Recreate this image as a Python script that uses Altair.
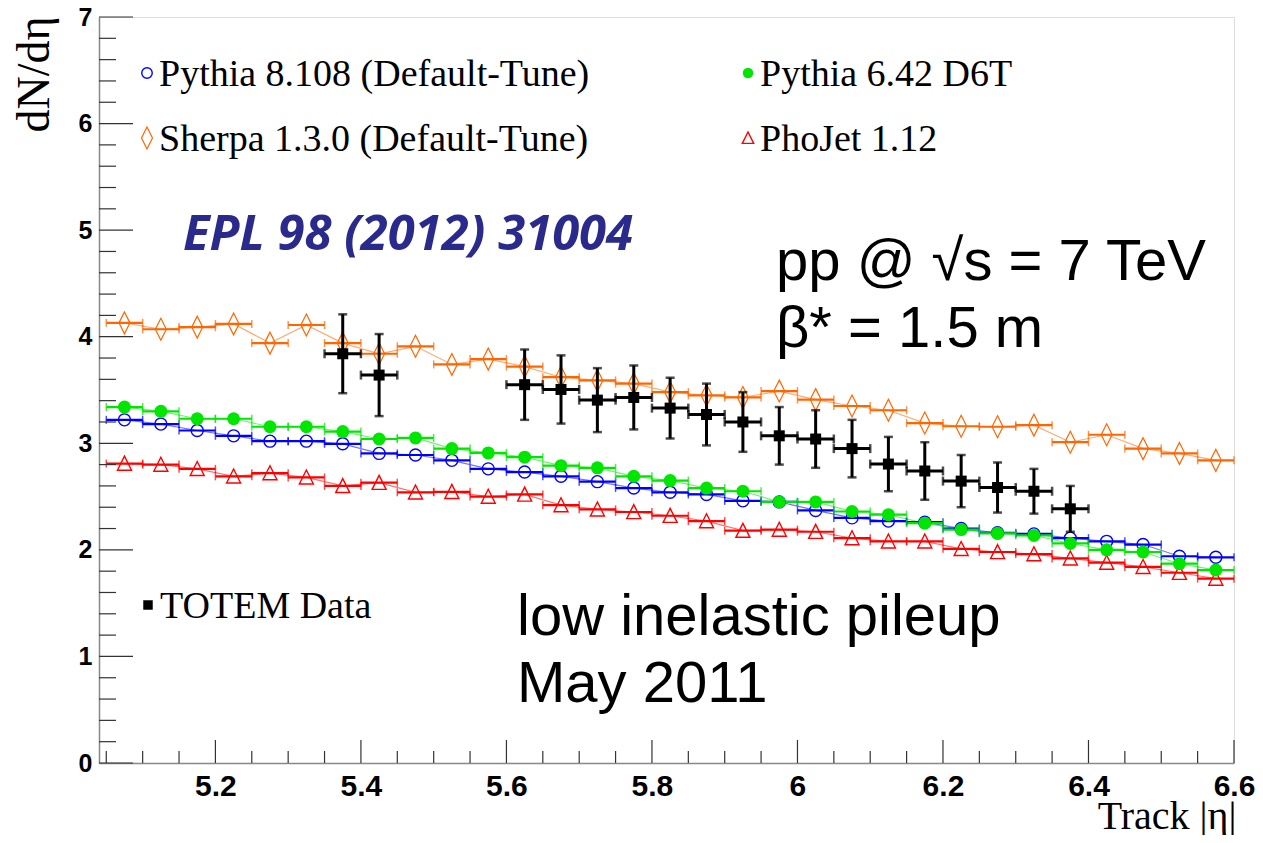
import altair as alt
import pandas as pd

# ---------------- data ----------------
bin_centers = [5.075, 5.125, 5.175, 5.225, 5.275, 5.325, 5.375, 5.425, 5.475, 5.525,
               5.575, 5.625, 5.675, 5.725, 5.775, 5.825, 5.875, 5.925, 5.975, 6.025,
               6.075, 6.125, 6.175, 6.225, 6.275, 6.325, 6.375, 6.425, 6.475, 6.525, 6.575]
half_bin = 0.025

sherpa = [4.13, 4.07, 4.09, 4.12, 3.94, 4.11, 3.94, 3.84, 3.91, 3.74,
          3.79, 3.72, 3.62, 3.59, 3.56, 3.48, 3.45, 3.43, 3.49, 3.41,
          3.35, 3.31, 3.19, 3.16, 3.155, 3.17, 3.01, 3.08, 2.95, 2.905, 2.84]
pythia6 = [3.34, 3.30, 3.23, 3.23, 3.155, 3.155, 3.11, 3.04, 3.05, 2.95,
           2.91, 2.87, 2.79, 2.77, 2.69, 2.65, 2.58, 2.55, 2.45, 2.45,
           2.36, 2.33, 2.25, 2.19, 2.155, 2.135, 2.06, 2.00, 1.98, 1.87, 1.81]
pythia8 = [3.22, 3.18, 3.12, 3.07, 3.02, 3.02, 2.995, 2.905, 2.89, 2.84,
           2.76, 2.73, 2.69, 2.64, 2.58, 2.54, 2.52, 2.46, 2.45, 2.37,
           2.30, 2.27, 2.26, 2.20, 2.16, 2.15, 2.11, 2.08, 2.05, 1.94, 1.93]
phojet = [2.81, 2.80, 2.76, 2.69, 2.72, 2.68, 2.60, 2.63, 2.54, 2.545,
          2.50, 2.52, 2.42, 2.38, 2.355, 2.32, 2.27, 2.18, 2.19, 2.17,
          2.11, 2.08, 2.08, 2.01, 1.98, 1.96, 1.92, 1.88, 1.84, 1.785, 1.73]

totem_x = [5.375, 5.425, 5.625, 5.675, 5.725, 5.775, 5.825, 5.875, 5.925,
           5.975, 6.025, 6.075, 6.125, 6.175, 6.225, 6.275, 6.325, 6.375]
totem_y = [3.84, 3.64, 3.55, 3.505, 3.405, 3.43, 3.33, 3.27, 3.20,
           3.07, 3.04, 2.95, 2.805, 2.74, 2.645, 2.585, 2.55, 2.385]
totem_err = [0.37, 0.385, 0.33, 0.32, 0.30, 0.30, 0.285, 0.29, 0.28,
             0.27, 0.27, 0.27, 0.255, 0.27, 0.245, 0.235, 0.21, 0.215]

series_names = ["Pythia 8.108 (Default-Tune)", "Pythia 6.42 D6T",
                "Sherpa 1.3.0 (Default-Tune)", "PhoJet 1.12"]
series_colors = ["#0000ff", "#00e600", "#ff6600", "#ff0000"]
series_values = [pythia8, pythia6, sherpa, phojet]

x_major = [5.2, 5.4, 5.6, 5.8, 6.0, 6.2, 6.4, 6.6]
x_minor = [5.05, 5.1, 5.15, 5.25, 5.3, 5.35, 5.45, 5.5, 5.55, 5.65, 5.7, 5.75,
           5.85, 5.9, 5.95, 6.05, 6.1, 6.15, 6.25, 6.3, 6.35, 6.45, 6.5, 6.55]
y_major = [0, 1, 2, 3, 4, 5, 6, 7]
y_minor = [0.2, 0.4, 0.6, 0.8, 1.2, 1.4, 1.6, 1.8, 2.2, 2.4, 2.6, 2.8, 3.2, 3.4, 3.6, 3.8,
           4.2, 4.4, 4.6, 4.8, 5.2, 5.4, 5.6, 5.8, 6.2, 6.4, 6.6, 6.8]

# ---------------- tables ----------------
rows = []
for name, vals in zip(series_names, series_values):
    for xc, yv in zip(bin_centers, vals):
        rows.append({"series": name, "x": xc, "y": yv,
                     "xlo": xc - half_bin, "xhi": xc + half_bin})
mc = pd.DataFrame(rows)

td = pd.DataFrame({"x": totem_x, "y": totem_y, "err": totem_err})
td["lo"] = td["y"] - td["err"]
td["hi"] = td["y"] + td["err"]
td["xlo"] = td["x"] - half_bin
td["xhi"] = td["x"] + half_bin

W, H = 1135, 746
xs = alt.Scale(domain=[5.04, 6.6], nice=False, zero=False)
ys = alt.Scale(domain=[0, 7], nice=False, zero=False)
cs = alt.Scale(domain=series_names, range=series_colors)

SERIF = "Liberation Serif, Times New Roman, serif"
SANS = "Liberation Sans, Arial, sans-serif"

xaxis = alt.Axis(values=x_major, format=".1~f", ticks=False, grid=False,
                 domainColor="#888888", domainWidth=1.5,
                 labelFont=SANS, labelFontWeight="bold", labelFontSize=30,
                 labelColor="black", labelPadding=8, labelFlush=False,
                 title="Track |η|", titleFont=SERIF, titleFontSize=40,
                 titleFontWeight="normal", titleColor="black",
                 titleX=W + 2, titleY=65, titleAlign="right", titleBaseline="alphabetic",
                 titleAnchor="end")
yaxis = alt.Axis(values=y_major, format="d", ticks=False, grid=False,
                 domainColor="#888888", domainWidth=1.5,
                 labelFont=SANS, labelFontWeight="bold", labelFontSize=25,
                 labelColor="black", labelPadding=7,
                 title="dN/dη", titleFont=SERIF, titleFontSize=46,
                 titleFontWeight="normal", titleColor="black",
                 titleAngle=270, titleX=-65, titleY=-1, titleAlign="right",
                 titleBaseline="middle")

base = alt.Chart(mc)

lines = base.mark_line(strokeWidth=1.2, opacity=0.55).encode(
    x=alt.X("x:Q", scale=xs, axis=xaxis),
    y=alt.Y("y:Q", scale=ys, axis=yaxis),
    color=alt.Color("series:N", scale=cs, legend=None),
)
hbars = base.mark_rule(strokeWidth=2.2).encode(
    x=alt.X("xlo:Q", scale=xs), x2="xhi:Q",
    y=alt.Y("y:Q", scale=ys),
    color=alt.Color("series:N", scale=cs, legend=None),
)
hcaps = base.transform_fold(["xlo", "xhi"], as_=["k", "xe"]).mark_tick(
    orient="vertical", size=8, thickness=1.5).encode(
    x=alt.X("xe:Q", scale=xs), y=alt.Y("y:Q", scale=ys),
    color=alt.Color("series:N", scale=cs, legend=None),
)

DIAMOND = "M0,-1L0.5,0L0,1L-0.5,0Z"
TRIANGLE = "M0,-1.05L1,0.95L-1,0.95Z"

def markers(name, **kw):
    return base.transform_filter(alt.datum.series == name).mark_point(**kw).encode(
        x=alt.X("x:Q", scale=xs), y=alt.Y("y:Q", scale=ys))

m_p8 = markers(series_names[0], shape="circle", filled=False, size=144,
               strokeWidth=1.4, color="#0000ff", opacity=1)
m_p6 = markers(series_names[1], shape="circle", filled=True, size=169,
               color="#00e600", opacity=1)
m_sh = markers(series_names[2], shape=DIAMOND, filled=False, size=480,
               strokeWidth=1.2, color="#ff6600", opacity=1)
m_ph = markers(series_names[3], shape=TRIANGLE, filled=False, size=196,
               strokeWidth=1.4, color="#ff0000", opacity=1)

tb = alt.Chart(td)
t_v = tb.mark_rule(strokeWidth=3, color="black").encode(
    x=alt.X("x:Q", scale=xs), y=alt.Y("lo:Q", scale=ys), y2="hi:Q")
t_h = tb.mark_rule(strokeWidth=3, color="black").encode(
    x=alt.X("xlo:Q", scale=xs), x2="xhi:Q", y=alt.Y("y:Q", scale=ys))
t_vc = tb.transform_fold(["lo", "hi"], as_=["k", "ye"]).mark_tick(
    orient="horizontal", size=9, thickness=2.5, color="black").encode(
    x=alt.X("x:Q", scale=xs), y=alt.Y("ye:Q", scale=ys))
t_hc = tb.transform_fold(["xlo", "xhi"], as_=["k", "xe"]).mark_tick(
    orient="vertical", size=9, thickness=2.5, color="black").encode(
    x=alt.X("xe:Q", scale=xs), y=alt.Y("y:Q", scale=ys))
t_m = tb.mark_point(shape="square", filled=True, size=121, color="black", opacity=1).encode(
    x=alt.X("x:Q", scale=xs), y=alt.Y("y:Q", scale=ys))

# inward ticks (ROOT style)
TICK = "#333333"
ymaj = alt.Chart(pd.DataFrame({"v": y_major})).mark_rule(color=TICK, strokeWidth=1.2).encode(
    y=alt.Y("v:Q", scale=ys), x=alt.value(0), x2=alt.value(34))
ymin = alt.Chart(pd.DataFrame({"v": y_minor})).mark_rule(color=TICK, strokeWidth=1.2).encode(
    y=alt.Y("v:Q", scale=ys), x=alt.value(0), x2=alt.value(17))
xmaj = alt.Chart(pd.DataFrame({"v": x_major})).mark_rule(color=TICK, strokeWidth=1.2).encode(
    x=alt.X("v:Q", scale=xs), y=alt.value(H), y2=alt.value(H - 23))
xmin = alt.Chart(pd.DataFrame({"v": x_minor})).mark_rule(color=TICK, strokeWidth=1.2).encode(
    x=alt.X("v:Q", scale=xs), y=alt.value(H), y2=alt.value(H - 12))

# ---------------- annotations / legend ----------------
one = pd.DataFrame({"k": [0]})

def label(text, px, py, size, font, color="black", weight="normal", style="normal",
          baseline="middle"):
    return alt.Chart(pd.DataFrame({"t": [text]})).mark_text(
        align="left", baseline=baseline, font=font, fontSize=size, color=color,
        fontWeight=weight, fontStyle=style).encode(
        x=alt.value(px), y=alt.value(py), text="t:N")

def lmark(px, py, **kw):
    return alt.Chart(one).mark_point(opacity=1, **kw).encode(x=alt.value(px), y=alt.value(py))

LEG = 38
legend_layers = [
    lmark(48, 56, shape="circle", filled=False, size=110, strokeWidth=1.4, color="#0000ff"),
    label(series_names[0], 60, 58, LEG, SERIF),
    lmark(48, 121, shape=DIAMOND, filled=False, size=480, strokeWidth=1.2, color="#ff6600"),
    label(series_names[2], 60, 123, LEG, SERIF),
    lmark(649, 56, shape="circle", filled=True, size=110, color="#00e600"),
    label(series_names[1], 661, 58, LEG, SERIF),
    lmark(649, 121, shape=TRIANGLE, filled=False, size=130, strokeWidth=1.4, color="#ff0000"),
    label(series_names[3], 661, 123, LEG, SERIF),
    lmark(49, 588, shape="square", filled=True, size=90, color="black"),
    label("TOTEM Data", 61, 590, LEG, SERIF),
    label("EPL 98 (2012) 31004", 84, 218, 49, "Open Sans, Lato, sans-serif",
          color="#2a2a8c", weight="bold", style="italic"),
    label("pp @ √s = 7 TeV", 677, 263, 58, SANS, baseline="alphabetic"),
    label("β* = 1.5 m", 677, 330, 58, SANS, baseline="alphabetic"),
    label("low inelastic pileup", 418, 618, 58, SANS, baseline="alphabetic"),
    label("May 2011", 418, 685, 58, SANS, baseline="alphabetic"),
]

chart = alt.layer(
    lines, hbars, hcaps, m_ph, m_p8, m_p6, m_sh,
    t_v, t_h, t_vc, t_hc, t_m,
    ymaj, ymin, xmaj, xmin,
    *legend_layers,
).properties(
    width=W, height=H,
    autosize=alt.AutoSizeParams(type="none"),
    padding={"left": 91, "top": 9, "right": 21, "bottom": 72},
).configure_view(
    stroke="black", strokeWidth=1.5
).configure(background="white")

chart.save("out.html", embed_options={"renderer": "svg", "actions": False})
